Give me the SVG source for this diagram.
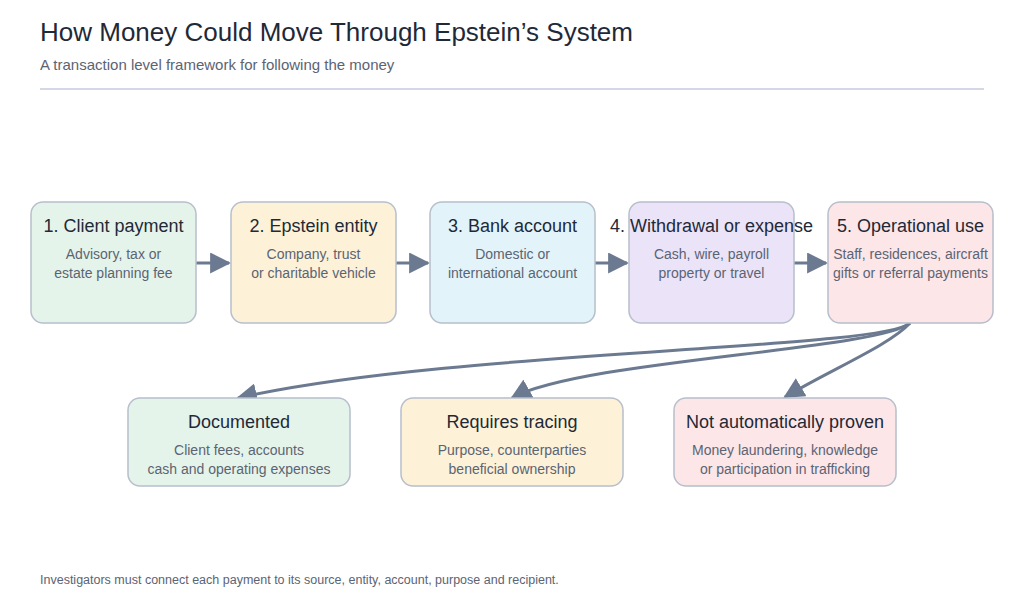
<svg xmlns="http://www.w3.org/2000/svg" width="1024" height="614" viewBox="0 0 1024 614">
<style>
text{font-family:"Liberation Sans",Arial,sans-serif}
.t{font-size:18px;fill:#1f2937;text-anchor:middle}
.s{font-size:14px;fill:#5b6473;text-anchor:middle}
.b{stroke:#b7bfcc;stroke-width:1.5}
.c{fill:none;stroke:#6b7a90;stroke-width:3}
</style>
<defs><marker id="a" viewBox="0 0 10 10" refX="9" refY="5" markerWidth="7" markerHeight="7" orient="auto" markerUnits="strokeWidth"><path d="M0,0L10,5L0,10z" fill="#6b7a90"/></marker></defs>
<rect width="1024" height="614" fill="#fff"/>
<text x="40" y="41" font-size="26" fill="#1f2937">How Money Could Move Through Epstein’s System</text>
<text x="40" y="70" font-size="15" fill="#5b6473">A transaction level framework for following the money</text>
<line x1="40" y1="89" x2="984" y2="89" stroke="#c5cae0" stroke-width="1.5"/>
<g id="connectors">
<path class="c" d="M196,263H229" marker-end="url(#a)"/>
<path class="c" d="M396,263H428" marker-end="url(#a)"/>
<path class="c" d="M595,263H627" marker-end="url(#a)"/>
<path class="c" d="M794,263H826" marker-end="url(#a)"/>
<path class="c" d="M910,323C880,350 450,350 238,398" marker-end="url(#a)"/>
<path class="c" d="M910,323C880,350 580,360 512,398" marker-end="url(#a)"/>
<path class="c" d="M910,323C890,345 830,370 785,397" marker-end="url(#a)"/>
</g>
<g id="n1"><rect class="b" x="31" y="202" width="165" height="121" rx="12" fill="#e5f4ea"/><text class="t" x="113.5" y="232">1. Client payment</text><text class="s" x="113.5" y="259">Advisory, tax or</text><text class="s" x="113.5" y="278">estate planning fee</text></g>
<g id="n2"><rect class="b" x="231" y="202" width="165" height="121" rx="12" fill="#fdf2d8"/><text class="t" x="313.5" y="232">2. Epstein entity</text><text class="s" x="313.5" y="259">Company, trust</text><text class="s" x="313.5" y="278">or charitable vehicle</text></g>
<g id="n3"><rect class="b" x="430" y="202" width="165" height="121" rx="12" fill="#e2f4f9"/><text class="t" x="512.5" y="232">3. Bank account</text><text class="s" x="512.5" y="259">Domestic or</text><text class="s" x="512.5" y="278">international account</text></g>
<g id="n4"><rect class="b" x="629" y="202" width="165" height="121" rx="12" fill="#ebe3f8"/><text class="t" x="711.5" y="232">4. Withdrawal or expense</text><text class="s" x="711.5" y="259">Cash, wire, payroll</text><text class="s" x="711.5" y="278">property or travel</text></g>
<g id="n5"><rect class="b" x="828" y="202" width="165" height="121" rx="12" fill="#fde6e8"/><text class="t" x="910.5" y="232">5. Operational use</text><text class="s" x="910.5" y="259">Staff, residences, aircraft</text><text class="s" x="910.5" y="278">gifts or referral payments</text></g>
<g id="d1"><rect class="b" x="128" y="398" width="222" height="88" rx="12" fill="#e5f4ea"/><text class="t" x="239" y="428">Documented</text><text class="s" x="239" y="455">Client fees, accounts</text><text class="s" x="239" y="474">cash and operating expenses</text></g>
<g id="d2"><rect class="b" x="401" y="398" width="222" height="88" rx="12" fill="#fdf2d8"/><text class="t" x="512" y="428">Requires tracing</text><text class="s" x="512" y="455">Purpose, counterparties</text><text class="s" x="512" y="474">beneficial ownership</text></g>
<g id="d3"><rect class="b" x="674" y="398" width="222" height="88" rx="12" fill="#fde6e8"/><text class="t" x="785" y="428">Not automatically proven</text><text class="s" x="785" y="455">Money laundering, knowledge</text><text class="s" x="785" y="474">or participation in trafficking</text></g>
<text x="40" y="584" font-size="12.5" fill="#5b6473">Investigators must connect each payment to its source, entity, account, purpose and recipient.</text>
</svg>
